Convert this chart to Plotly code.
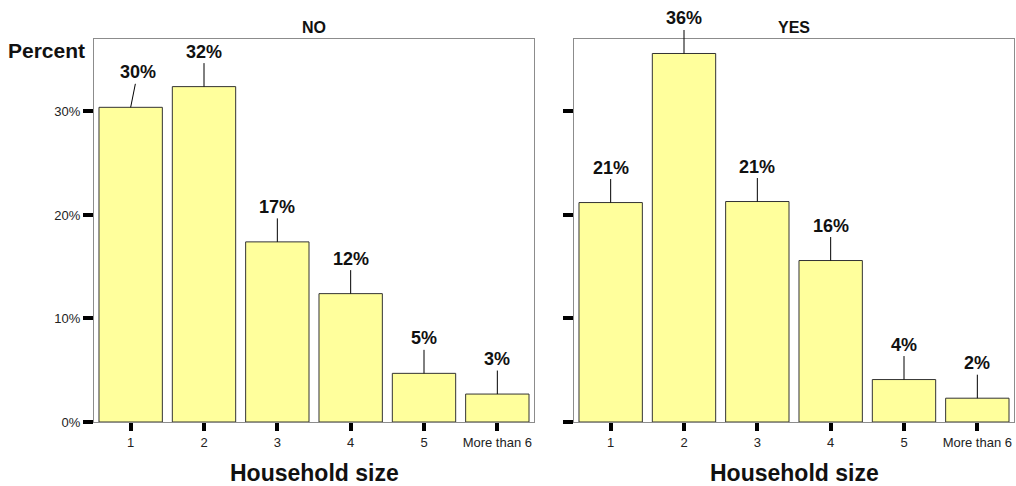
import plotly.graph_objects as go
from plotly.subplots import make_subplots

categories = ["1", "2", "3", "4", "5", "More than 6"]
no_values = [30.4, 32.4, 17.4, 12.4, 4.7, 2.7]
yes_values = [21.2, 35.6, 21.3, 15.6, 4.1, 2.3]
panel_titles = ["NO", "YES"]
y_tick_vals = [0, 10, 20, 30]
y_tick_text = ["0%", "10%", "20%", "30%"]

FONT = "Liberation Sans, Arial, sans-serif"
BAR_FILL = "#FFFF9C"

fig = make_subplots(rows=1, cols=2, horizontal_spacing=40 / 920)

for col, vals in enumerate([no_values, yes_values], start=1):
    fig.add_trace(
        go.Bar(
            x=categories,
            y=vals,
            marker=dict(color=BAR_FILL, line=dict(color="#333333", width=1)),
            hoverinfo="x+y",
            showlegend=False,
        ),
        row=1, col=col,
    )

left_dom = [0, 440 / 920]
right_dom = [480 / 920, 1]

axis_common = dict(
    showline=True, linecolor="#8c8c8c", linewidth=1, mirror=True,
    showgrid=False, zeroline=False,
)

fig.update_xaxes(
    **axis_common, type="category",
    ticks="outside", ticklen=8, tickwidth=4, tickcolor="black",
    tickfont=dict(family=FONT, size=13, color="#222"),
)
fig.update_yaxes(
    **axis_common,
    range=[0, 37], tickvals=y_tick_vals, ticktext=y_tick_text,
    ticks="outside", ticklen=10, tickwidth=4, tickcolor="black",
    tickfont=dict(family=FONT, size=13, color="#222"),
)
fig.update_xaxes(domain=left_dom, row=1, col=1)
fig.update_xaxes(domain=right_dom, row=1, col=2)
fig.update_yaxes(showticklabels=False, row=1, col=2)

annotations = []
# value labels with leader lines
for xref, yref, vals in [("x", "y", no_values), ("x2", "y2", yes_values)]:
    for i, v in enumerate(vals):
        annotations.append(dict(
            x=i, y=v, xref=xref, yref=yref,
            text=f"<b>{round(v)}%</b>",
            showarrow=True, arrowhead=0, arrowwidth=1, arrowcolor="black",
            ax=7 if (xref == "x" and i == 0) else 0, ay=-35,
            font=dict(family=FONT, size=18, color="#111"),
        ))

# panel titles and x-axis titles
for dom, t in zip([left_dom, right_dom], panel_titles):
    cx = (dom[0] + dom[1]) / 2
    annotations.append(dict(
        x=cx, y=1, xref="paper", yref="paper", xanchor="center",
        text=f"<b>{t}</b>", showarrow=False, yanchor="bottom", yshift=1,
        font=dict(family=FONT, size=16, color="#111"),
    ))
    annotations.append(dict(
        x=cx, y=0, xref="paper", yref="paper", xanchor="center",
        text="<b>Household size</b>", showarrow=False, yanchor="middle", yshift=-51,
        font=dict(family=FONT, size=23, color="#111"),
    ))

annotations.append(dict(
    x=0, y=1, xref="paper", yref="paper", xanchor="right", yanchor="middle",
    xshift=-7, yshift=-11, text="<b>Percent</b>", showarrow=False,
    font=dict(family=FONT, size=21, color="#111"),
))

fig.update_layout(
    width=1016, height=486,
    margin=dict(l=94, r=2, t=39, b=64),
    paper_bgcolor="white", plot_bgcolor="white",
    bargap=0.136,
    annotations=annotations,
    font=dict(family=FONT),
)

fig.write_html(
    "out.html",
    config={"displayModeBar": False},
    post_script="document.body.style.margin='0px';document.body.style.overflow='hidden';",
)
